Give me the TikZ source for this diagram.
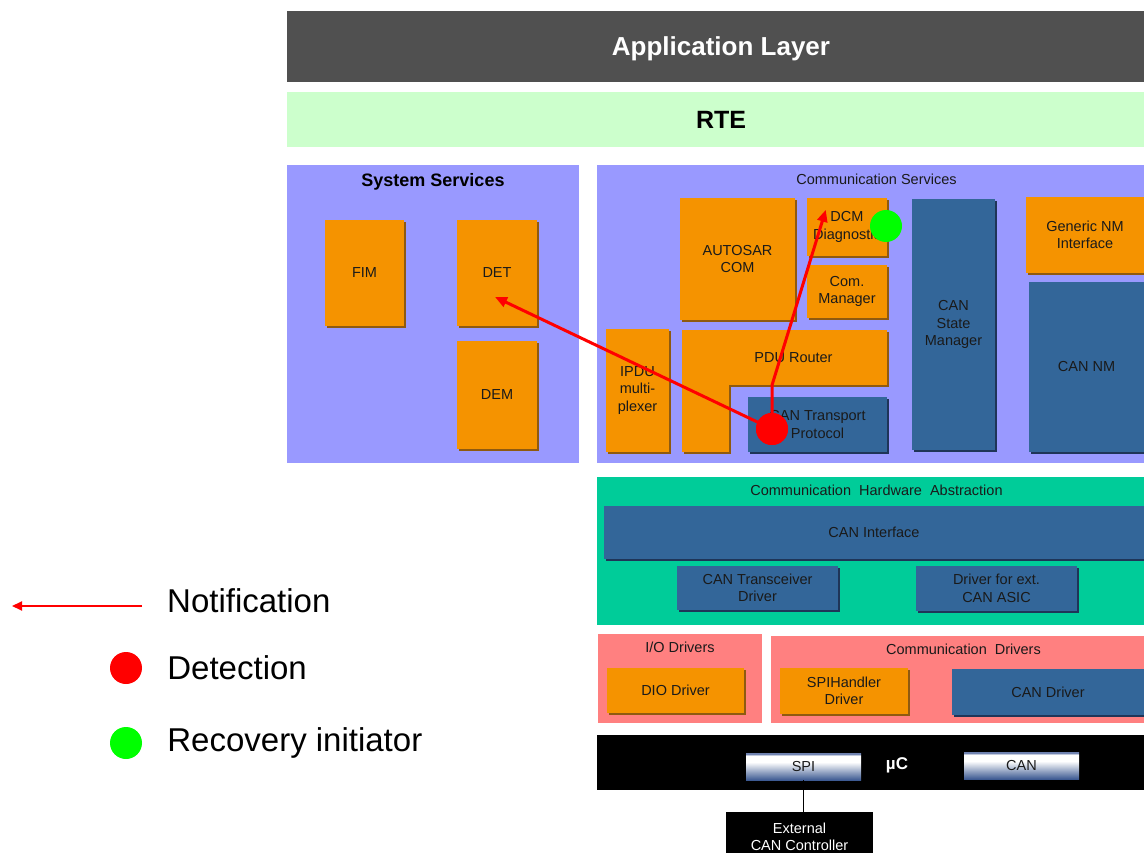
\documentclass[tikz,border=0pt]{standalone}
\usepackage{fontspec}
\setmainfont{Liberation Sans}
\usepackage{tikz}
\usetikzlibrary{positioning,arrows.meta,shadows}
\definecolor{appFill}{HTML}{505050}
\definecolor{rteFill}{HTML}{CCFFCC}
\definecolor{svcFill}{HTML}{9999FF}
\definecolor{hwFill}{HTML}{00CC99}
\definecolor{drvFill}{HTML}{FF8080}
\definecolor{boxOrange}{HTML}{F59300}
\definecolor{orangeShade}{HTML}{8F5A10}
\definecolor{boxBlue}{HTML}{336699}
\definecolor{blueShade}{HTML}{1F3558}
\definecolor{boxText}{HTML}{1A1A1A}
\definecolor{notifyRed}{HTML}{FF0000}
\definecolor{recovGreen}{HTML}{00FF00}
\definecolor{portTop}{HTML}{6F82B0}
\definecolor{portBot}{HTML}{3D5A92}
\pgfdeclareverticalshading{portshade}{100bp}{%
  color(0bp)=(portBot); color(25bp)=(portBot); color(40bp)=(portBot!55!white);
  color(58bp)=(white); color(70bp)=(white); color(73bp)=(portTop); color(75bp)=(portTop);
  color(100bp)=(portTop)}

\begin{document}
\begin{tikzpicture}[
  x=1pt, y=-1pt,
  font=\fontsize{14.5}{17.5}\selectfont,
  sz/.style 2 args={minimum width=#1pt, minimum height=#2pt},
  panel/.style={fill=#1, inner sep=0pt},
  ptitle/.style={font=\fontsize{14.5}{17.5}\selectfont, text=boxText},
  obox/.style={fill=boxOrange, text=boxText, align=center, inner sep=1pt,
               drop shadow={shadow xshift=2pt, shadow yshift=-2pt, fill=orangeShade, opacity=1}},
  bbox/.style={fill=boxBlue, text=boxText, align=center, inner sep=1pt,
               drop shadow={shadow xshift=2pt, shadow yshift=-2pt, fill=blueShade, opacity=1}},
  port/.style={shading=portshade, text=boxText, inner sep=0pt},
  dot/.style={circle, fill=#1, minimum size=32pt, inner sep=0pt},
  notify/.style={draw=notifyRed, line width=3pt, -{Triangle[length=12pt,width=10pt]}},
  legarrow/.style={draw=notifyRed, line width=2pt, -{Triangle[length=10pt,width=9pt]}},
  legtext/.style={font=\fontsize{33}{39}\selectfont, inner sep=0pt},
]
\useasboundingbox (0,0) rectangle (1144,853);

% ---- Upper layers ----
\node[panel=appFill, sz={857}{71}, text=white, font=\bfseries\fontsize{26}{31}\selectfont] (app) at (715.5,46.5) {};
\node[text=white, font=\bfseries\fontsize{26}{31}\selectfont] at ([xshift=5.5pt,yshift=-2.5pt]app.center) {Application Layer};
\node[panel=rteFill, sz={857}{55}, font=\bfseries\fontsize{25}{30}\selectfont] (rte) at (715.5,119.5) {\hspace*{11pt}RTE};

% ---- System Services ----
\node[panel=svcFill, sz={292}{298}] (sys) at (433,314) {};
\node[font=\bfseries\fontsize{18}{21}\selectfont] at ([yshift=-17pt]sys.north) {System Services};
\node[obox, sz={79}{106}] (fim) at (364.5,273) {FIM};
\node[obox, sz={80}{106}] (det) at (497,273) {DET};
\node[obox, sz={80}{108}] (dem) at (497,395) {DEM};

% ---- Communication Services ----
\node[panel=svcFill, sz={547}{298}] (comsrv) at (870.5,314) {};
\node[ptitle] at ([xshift=6pt,yshift=-15pt]comsrv.north) {Communication Services};
\node[obox, sz={115}{122}] (acom) at (737.5,259) {AUTOSAR\\COM};
\node[obox, sz={80}{58}] (dcm) at (847,227) {DCM\\Diagnostic};
\node[obox, sz={80}{53}] (comm) at (847,291.5) {Com.\\Manager};
\node[bbox, sz={83}{251}] (csm) at (953.5,324.5) {CAN\\State\\Manager};
\node[obox, sz={118}{76}] (gnm) at (1085,235) {Generic NM\\Interface};
\node[bbox, sz={115}{170}] (cannm) at (1086.5,367) {CAN NM};
\node[obox, sz={63}{123}] (ipdu) at (637.5,390.5) {IPDU\\multi-\\plexer};
\node[obox, sz={205}{55}] (pdur) at (784.5,357.5) {\hspace*{18pt}PDU Router};
\node[obox, sz={47}{67}] (pdurleg) at (705.5,418.5) {};
\node[bbox, sz={139}{55}] (cantp) at (817.5,424.5) {CAN Transport\\Protocol};

% ---- Communication Hardware Abstraction ----
\node[panel=hwFill, sz={547}{148}] (hwabs) at (870.5,551) {};
\node[ptitle] at ([xshift=6pt,yshift=-14pt]hwabs.north) {Communication\ \ Hardware\ \ Abstraction};
\node[bbox, sz={540}{53}] (canif) at (874,532.5) {CAN Interface};
\node[bbox, sz={161}{44}] (cantrx) at (757.5,588) {CAN Transceiver\\Driver};
\node[bbox, sz={161}{45}] (extasic) at (996.5,588.5) {Driver for ext.\\CAN ASIC};

% ---- Drivers ----
\node[panel=drvFill, sz={164}{89}] (iodrv) at (680,678.5) {};
\node[ptitle] at ([yshift=-14pt]iodrv.north) {I/O Drivers};
\node[obox, sz={137}{45}] (dio) at (675.5,690.5) {DIO Driver};
\node[panel=drvFill, sz={373}{87}] (comdrv) at (957.5,679.5) {};
\node[ptitle] at ([xshift=6pt,yshift=-14pt]comdrv.north) {Communication\ \ Drivers};
\node[obox, sz={128}{46}] (spih) at (844,691) {SPIHandler\\Driver};
\node[bbox, sz={192}{46}] (candrv) at (1048,692) {CAN Driver};

% ---- Microcontroller ----
\node[panel=black, sz={547}{55}] (uc) at (870.5,762.5) {};
\node[port, sz={115}{27}] (spi) at (803.5,766.5) {SPI};
\node[port, sz={115}{27}] (can) at (1021.5,765.5) {CAN};
\node[text=white, font=\bfseries\fontsize{17}{20}\selectfont] (ucl) at (897,765) {µC};
\node[panel=black, sz={147}{50}, text=white, align=center] (extcc) at (799.5,837) {External\\CAN Controller};
\draw[line width=1pt] (spi.south) -- (spi.south |- extcc.north);

% ---- Notifications ----
\coordinate (dettip) at ([xshift=-2pt,yshift=-24pt]det.center);
\coordinate (dcmtip) at ([xshift=19pt,yshift=-12pt]dcm.north west);
\node[dot=notifyRed] (detect) at (772,429) {};
\draw[notify] (detect.center) -- (dettip);
\draw[notify] (detect.center) -- (detect.center |- pdur.south) -- (dcmtip);
\node[dot=notifyRed] at (detect) {};
\node[dot=recovGreen] (recov) at (886,226) {};

% ---- Legend ----
\node[legtext, anchor=west] (notif) at (167,601) {Notification};
\coordinate (legtail) at (142,606);
\coordinate (legtip) at (12,606);
\draw[legarrow] (legtail) -- (legtip);
\node[dot=notifyRed] (legdet) at (126,668) {};
\node[legtext, right=25pt of legdet] (detl) {Detection};
\node[dot=recovGreen] (legrec) at (126,743) {};
\node[legtext, right=25pt of legrec] (recl) {Recovery initiator};

\end{tikzpicture}
\end{document}
